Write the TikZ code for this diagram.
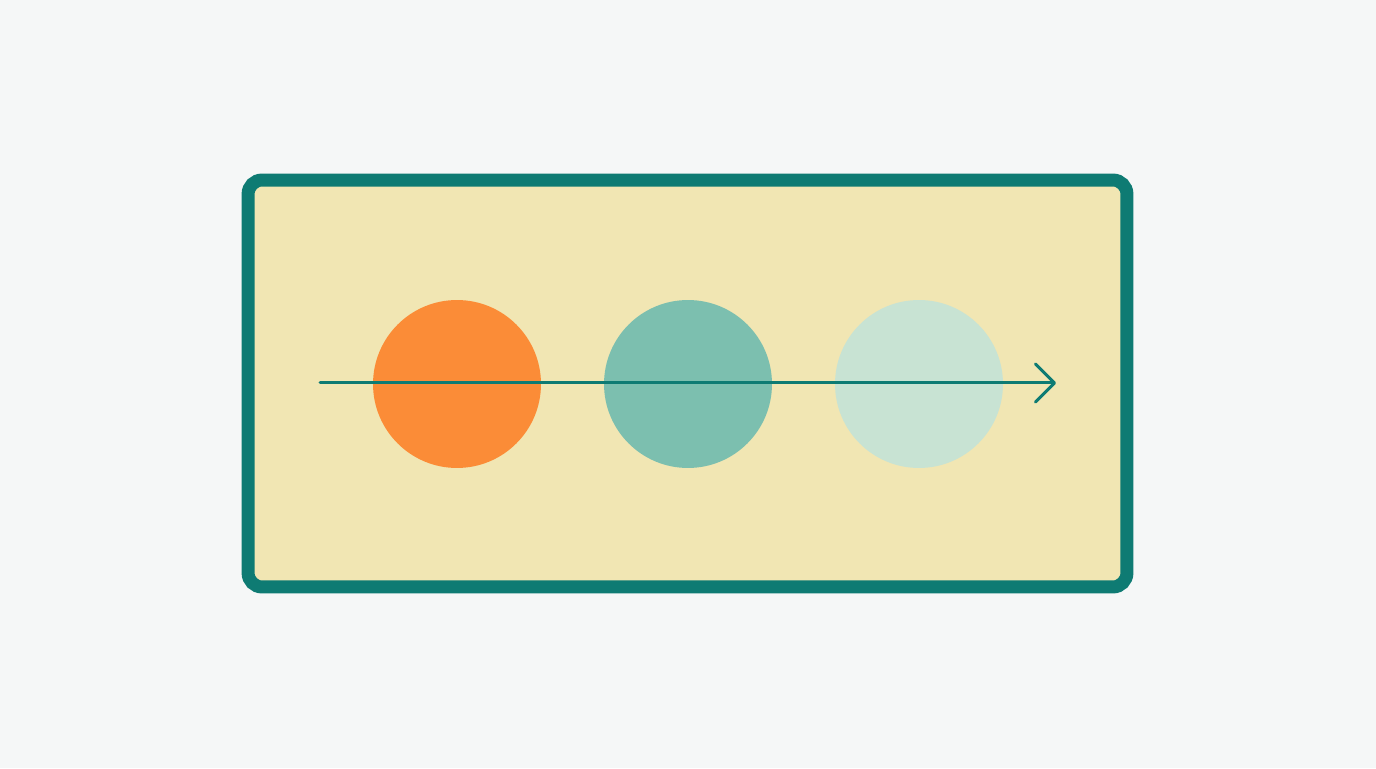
\documentclass[tikz,border=0pt]{standalone}
\usetikzlibrary{arrows.meta}

\definecolor{bgcol}{HTML}{F5F7F7}
\definecolor{framecol}{HTML}{0E7B73}
\definecolor{panelcol}{HTML}{F1E6B3}
\definecolor{dotA}{HTML}{FB8C37}
\definecolor{dotB}{HTML}{7CBFAF}
\definecolor{dotC}{HTML}{C8E3D3}

\begin{document}
\begin{tikzpicture}[
  x=0.02cm, y=0.02cm,
  panel/.style={draw=framecol, fill=panelcol, line width=0.26cm, rounded corners=0.28cm,
    minimum width=17.58cm, minimum height=8.14cm, inner sep=0pt},
  dot/.style={circle, inner sep=0pt, minimum size=3.36cm},
  flow/.style={draw=framecol, line width=0.06cm, line cap=round,
    -{Straight Barb[length=0.38cm, width=0.76cm, line width=0.06cm, round]}}
]
\fill[bgcol] (0,0) rectangle (1376,768);
\useasboundingbox (0,0) rectangle (1376,768);

\node[panel] (frame) at (687.5,384.5) {};
\node[dot, fill=dotA] (D1) at (457,384) {};
\node[dot, fill=dotB] (D2) at (688,384) {};
\node[dot, fill=dotC] (D3) at (919,384) {};

\coordinate (S) at (320,385);
\coordinate (E) at (1056,385);
\draw[flow] (S) -- (E);
\end{tikzpicture}
\end{document}
